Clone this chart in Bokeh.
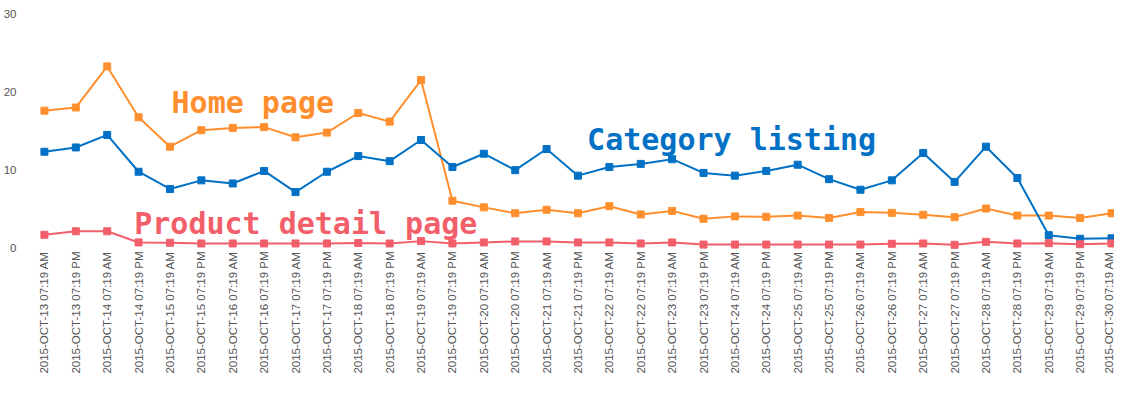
import math
from bokeh.plotting import figure
from bokeh.models import Range1d, FixedTicker, Label
from bokeh.embed import file_html
from bokeh.resources import INLINE

days = list(range(13, 31))
tick_labels = []
for d in days:
    tick_labels.append(f"2015-OCT-{d} 07:19 AM")
    if d != 30:
        tick_labels.append(f"2015-OCT-{d} 07:19 PM")

home_page = [17.6, 18.0, 23.25, 16.75, 13.0, 15.1, 15.4, 15.5, 14.2, 14.8, 17.3, 16.2, 21.5,
             6.1, 5.25, 4.5, 4.95, 4.5, 5.4, 4.35, 4.8, 3.8, 4.1, 4.05, 4.2, 3.9, 4.65, 4.55,
             4.3, 4.0, 5.1, 4.2, 4.2, 3.9, 4.5]
category_listing = [12.35, 12.9, 14.5, 9.8, 7.6, 8.7, 8.3, 9.9, 7.2, 9.8, 11.8, 11.15, 13.85,
                    10.4, 12.1, 10.0, 12.7, 9.3, 10.4, 10.8, 11.4, 9.65, 9.3, 9.9, 10.7, 8.85,
                    7.5, 8.7, 12.2, 8.5, 13.0, 9.0, 1.7, 1.24, 1.3]
product_detail = [1.75, 2.2, 2.2, 0.77, 0.73, 0.64, 0.64, 0.64, 0.64, 0.64, 0.7, 0.64, 0.94,
                  0.64, 0.77, 0.9, 0.9, 0.77, 0.77, 0.64, 0.77, 0.5, 0.5, 0.5, 0.5, 0.5, 0.5,
                  0.6, 0.64, 0.47, 0.85, 0.64, 0.68, 0.55, 0.64]

series_names = ["Home page", "Category listing", "Product detail page"]
colors = ["#FF8F2E", "#0071C5", "#F25F6A"]

x = list(range(len(tick_labels)))

p = figure(width=1114, height=376, output_backend="svg", toolbar_location=None,
           x_range=Range1d(-0.635, 34.095), y_range=Range1d(-0.385, 31.41),
           min_border_left=0, min_border_right=0, min_border_top=2, min_border_bottom=0)
p.outline_line_color = None
p.xgrid.grid_line_color = None
p.ygrid.grid_line_color = None

for vals, col in zip([home_page, category_listing, product_detail], colors):
    p.line(x, vals, line_color=col, line_width=2)
    p.scatter(x, vals, marker="square", size=7, fill_color=col, line_color=col)

p.xaxis.ticker = FixedTicker(ticks=x)
p.xaxis.major_label_overrides = {i: t for i, t in enumerate(tick_labels)}
p.xaxis.major_label_orientation = math.pi / 2
p.yaxis.ticker = FixedTicker(ticks=[0, 10, 20, 30])
for ax in [p.xaxis[0], p.yaxis[0]]:
    ax.axis_line_color = None
    ax.major_tick_line_color = None
    ax.minor_tick_line_color = None
    ax.major_tick_out = 0
    ax.major_tick_in = 0
    ax.major_label_text_font = "Liberation Sans"
    ax.major_label_text_font_size = "11.5px"
    ax.major_label_text_color = "#555555"
p.xaxis.major_label_standoff = 0
p.yaxis.major_label_standoff = 8

label_pos = [(4.05, 18.6), (17.29, 13.9), (2.86, 3.25)]
for name, col, (lx, ly) in zip(series_names, colors, label_pos):
    p.add_layout(Label(x=lx, y=ly, text=name, text_color=col, text_font="DejaVu Sans Mono",
                       text_font_size="30px", text_font_style="bold", text_baseline="alphabetic"))

open("out.html", "w").write(file_html(p, INLINE))
